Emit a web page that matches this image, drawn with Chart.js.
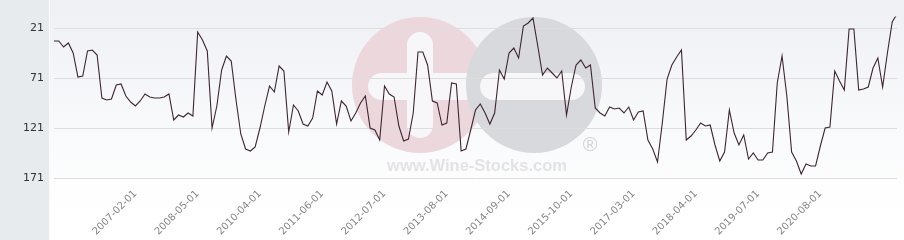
<!DOCTYPE html>
<html>
<head>
<meta charset="utf-8">
<script src="https://cdn.jsdelivr.net/npm/chart.js@4.4.1/dist/chart.umd.min.js"></script>
<style>
  html, body {
    margin: 0;
    padding: 0;
    width: 904px;
    height: 240px;
    overflow: hidden;
    background: linear-gradient(to bottom, #eef0f4 0px, #f8f9fb 120px, #ffffff 210px);
  }
  #wrap {
    position: relative;
    width: 904px;
    height: 290px;
  }
</style>
</head>
<body>
<div id="wrap"><canvas id="rankChart"></canvas></div>
<script>
// Rank values, one per observation (lower = better, axis is reversed)
const rankValues = [
  34, 34, 40, 36, 46, 70, 69, 44, 43, 48,
  91, 93, 92, 78, 77, 89, 95, 99, 94, 87,
  90, 91, 91, 90, 87, 113, 108, 110, 106, 109,
  25, 33, 44, 121, 99, 63, 49, 54, 93, 127,
  142, 144, 140, 121, 99, 79, 85, 59, 64, 125,
  98, 104, 117, 119, 111, 84, 88, 75, 84, 117,
  94, 99, 114, 106, 96, 89, 121, 123, 133, 79,
  87, 90, 119, 134, 132, 106, 45, 45, 58, 94,
  96, 118, 116, 76, 77, 144, 142, 123, 103, 97,
  106, 117, 106, 63, 72, 46, 41, 51, 19, 16,
  11, 39, 68, 61, 66, 71, 64, 108, 80, 58,
  53, 61, 58, 101, 106, 109, 100, 102, 101, 106,
  100, 113, 105, 104, 133, 142, 155, 116, 72, 58,
  50, 43, 133, 129, 123, 116, 119, 118, 138, 154,
  145, 103, 126, 138, 128, 152, 146, 153, 153, 146,
  145, 76, 49, 89, 145, 154, 167, 157, 159, 159,
  139, 121, 120, 64, 74, 83, 22, 22, 83, 82,
  80, 61, 51, 80, 46, 15, 7
];

// Dated tick labels and the observation each one sits on
const tickLabels = [
  '2007-02-01', '2008-05-01', '2010-04-01', '2011-06-01',
  '2012-07-01', '2013-08-01', '2014-09-01', '2015-10-01',
  '2017-03-01', '2018-04-01', '2019-07-01', '2020-08-01'
];
const tickPositions = [17, 30, 43, 56, 69, 82, 95, 108, 121, 134, 147, 160];

const yTicks = [21, 71, 121, 171];

// Category labels: empty except where a date tick is shown
const categories = rankValues.map(() => '');
tickPositions.forEach((pos, k) => { categories[pos] = tickLabels[k]; });

// Left panel and faint watermark behind the grid
const backdrop = {
  id: 'backdrop',
  beforeDraw(chart) {
    const c = chart.ctx;
    c.save();
    c.fillStyle = '#e8ebee';
    c.fillRect(0, 0, 49, chart.height);
    c.fillStyle = '#fbfbfc';
    c.fillRect(49, 0, 1, chart.height);

    // watermark circles
    c.fillStyle = '#ebd7dc';
    c.beginPath();
    c.arc(420, 85, 68, 0, Math.PI * 2);
    c.fill();
    c.fillStyle = '#f7f7f9';
    c.beginPath();
    c.roundRect(368, 73, 110, 27, 13.5);
    c.fill();
    c.fillStyle = '#d8d9dc';
    c.beginPath();
    c.arc(534, 85, 68, 0, Math.PI * 2);
    c.fill();

    c.fillStyle = '#f7f7f9';
    c.beginPath();
    c.roundRect(407, 32, 26, 106, 13);
    c.fill();
    c.beginPath();
    c.roundRect(480, 73, 105, 27, 13.5);
    c.fill();

    c.fillStyle = '#e3e3e6';
    c.font = 'bold 16.5px "Liberation Sans", Arial, sans-serif';
    c.textAlign = 'center';
    c.textBaseline = 'middle';
    c.fillText('www.Wine-Stocks.com', 477, 166);
    c.fillStyle = '#d4d4d7';
    c.font = '20px "Liberation Sans", Arial, sans-serif';
    c.fillText('®', 590, 145);
    c.restore();
  }
};

const config = {
  type: 'line',
  data: {
    labels: categories,
    datasets: [{
      label: 'Rank',
      data: rankValues,
      borderColor: '#3e2430',
      borderWidth: 1.1,
      pointRadius: 0,
      tension: 0,
      fill: false
    }]
  },
  options: {
    responsive: true,
    maintainAspectRatio: false,
    animation: false,
    layout: {
      padding: { top: 0, right: 7, bottom: 0, left: 0 }
    },
    plugins: {
      legend: { display: false },
      tooltip: { enabled: false }
    },
    scales: {
      x: {
        offset: false,
        grid: { display: false },
        border: { display: false },
        ticks: {
          autoSkip: false,
          maxRotation: 45,
          minRotation: 45,
          padding: -10,
          color: '#858585',
          font: { family: '"DejaVu Sans"', size: 10 }
        },
        afterFit(scale) { scale.height = 100; }
      },
      y: {
        reverse: true,
        min: -7,
        max: 183,
        afterBuildTicks(scale) {
          scale.ticks = yTicks.map(v => ({ value: v }));
        },
        grid: {
          color: '#dddddd',
          lineWidth: 1,
          drawTicks: false
        },
        border: { display: false },
        ticks: {
          padding: 10,
          color: '#333333',
          font: { family: '"DejaVu Sans"', size: 11 }
        },
        afterFit(scale) { scale.width = 54; }
      }
    }
  },
  plugins: [backdrop]
};

const ctx = document.getElementById('rankChart').getContext('2d');
const rankChart = new Chart(ctx, config);

// Second pass: one pixel per rank with rank 21 on row 28, plot ending at x=897
const area = rankChart.chartArea;
const yMin = 21 - (28 - area.top);
rankChart.options.scales.y.min = yMin;
rankChart.options.scales.y.max = yMin + (area.bottom - area.top);
rankChart.options.layout.padding.right = 7 - (897 - area.right);
rankChart.update();
</script>
</body>
</html>
